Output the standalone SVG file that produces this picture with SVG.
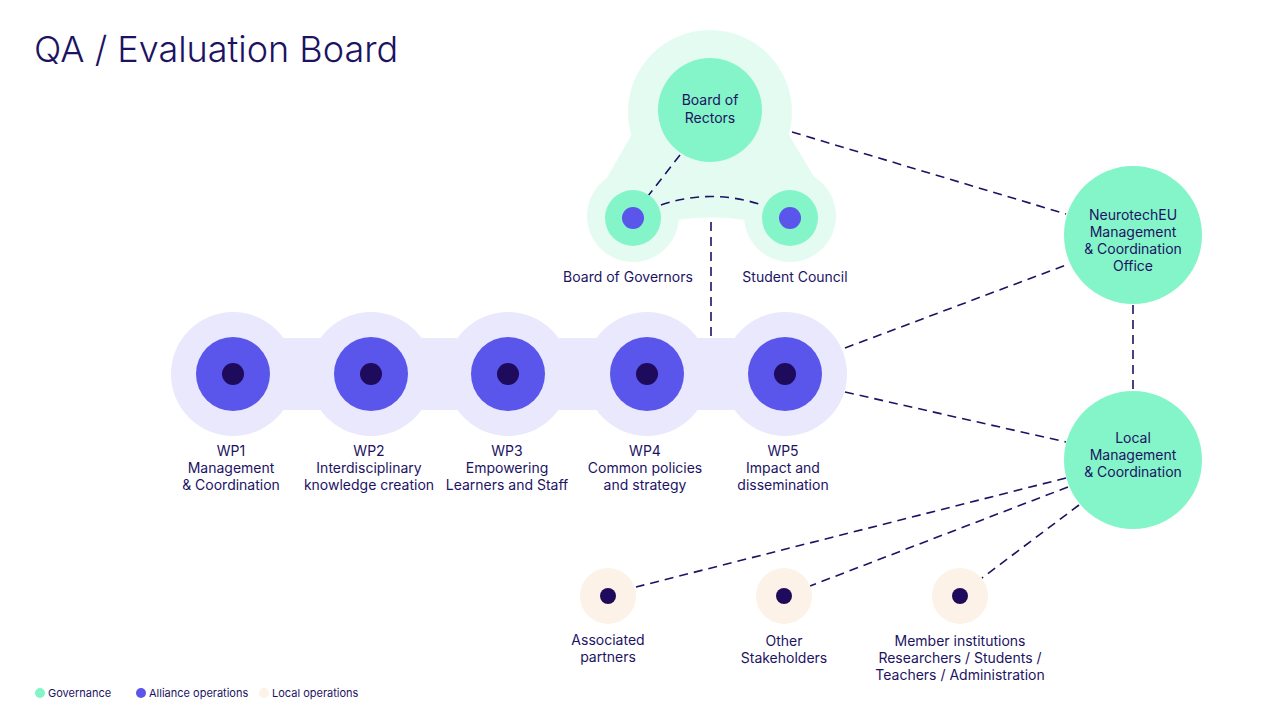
<svg xmlns="http://www.w3.org/2000/svg" width="1280" height="720" viewBox="0 0 1280 720">
<style>
text{font-family:Inter,"Liberation Sans",sans-serif;fill:#1c1363;font-size:14px}
.c{text-anchor:middle}
.lg{fill:#e4fbf2}.g{fill:#84f4c9}.lp{fill:#e9e8fc}.p{fill:#5a55eb}.d{fill:#1e0b5c}.lo{fill:#fcf2e7}
.dash{fill:none;stroke:#1c1363;stroke-width:1.6;stroke-dasharray:9 6}
</style>
<rect width="1280" height="720" fill="#fff"/>
<text x="34" y="62" style="font-size:36px;font-weight:300">QA / Evaluation Board</text>
<g id="governance-bg">
<circle class="lg" cx="710" cy="112" r="82"/>
<circle class="lg" cx="633" cy="216" r="46"/>
<circle class="lg" cx="790" cy="216" r="46"/>
<path class="lg" d="M600,190 L640,120 L780,120 L822,190 L790,230 Q711,205 633,230 Z"/>
</g>
<g id="wp-bg">
<circle class="lp" cx="233" cy="374" r="62"/><circle class="lp" cx="371" cy="374" r="62"/><circle class="lp" cx="508" cy="374" r="62"/><circle class="lp" cx="647" cy="374" r="62"/><circle class="lp" cx="785" cy="374" r="62"/>
<rect class="lp" x="233" y="338" width="552" height="72"/>
</g>
<g id="connectors">
<line class="dash" x1="680" y1="155" x2="648" y2="196"/>
<path class="dash" d="M661,205 Q711,188 762,205"/>
<line class="dash" x1="711" y1="222" x2="711" y2="338"/>
<line class="dash" x1="792" y1="132" x2="1066" y2="214"/>
<line class="dash" x1="845" y1="348" x2="1066" y2="265"/>
<line class="dash" x1="845" y1="392" x2="1066" y2="442"/>
<line class="dash" x1="1133" y1="305" x2="1133" y2="390"/>
<line class="dash" x1="1066" y1="478" x2="636" y2="587"/>
<line class="dash" x1="1068" y1="487" x2="810" y2="586"/>
<line class="dash" x1="1079" y1="505" x2="982" y2="578"/>
</g>
<g id="board-of-rectors"><circle class="g" cx="710" cy="110" r="52"/><text class="c" x="710" y="105">Board of</text><text class="c" x="710" y="123">Rectors</text></g>
<g id="board-of-governors"><circle class="g" cx="633" cy="218" r="28"/><circle class="p" cx="633" cy="218" r="11"/><text class="c" x="628" y="282">Board of Governors</text></g>
<g id="student-council"><circle class="g" cx="790" cy="218" r="28"/><circle class="p" cx="790" cy="218" r="11"/><text class="c" x="795" y="282">Student Council</text></g>
<g id="wp1"><circle class="p" cx="233" cy="374" r="37"/><circle class="d" cx="233" cy="374" r="11"/><text class="c" x="231" y="456">WP1</text><text class="c" x="231" y="473">Management</text><text class="c" x="231" y="490">&amp; Coordination</text></g>
<g id="wp2"><circle class="p" cx="371" cy="374" r="37"/><circle class="d" cx="371" cy="374" r="11"/><text class="c" x="369" y="456">WP2</text><text class="c" x="369" y="473">Interdisciplinary</text><text class="c" x="369" y="490">knowledge creation</text></g>
<g id="wp3"><circle class="p" cx="508" cy="374" r="37"/><circle class="d" cx="508" cy="374" r="11"/><text class="c" x="507" y="456">WP3</text><text class="c" x="507" y="473">Empowering</text><text class="c" x="507" y="490">Learners and Staff</text></g>
<g id="wp4"><circle class="p" cx="647" cy="374" r="37"/><circle class="d" cx="647" cy="374" r="11"/><text class="c" x="645" y="456">WP4</text><text class="c" x="645" y="473">Common policies</text><text class="c" x="645" y="490">and strategy</text></g>
<g id="wp5"><circle class="p" cx="785" cy="374" r="37"/><circle class="d" cx="785" cy="374" r="11"/><text class="c" x="783" y="456">WP5</text><text class="c" x="783" y="473">Impact and</text><text class="c" x="783" y="490">dissemination</text></g>
<g id="mco"><circle class="g" cx="1133" cy="235" r="69"/><text class="c" x="1133" y="220">NeurotechEU</text><text class="c" x="1133" y="237">Management</text><text class="c" x="1133" y="254">&amp; Coordination</text><text class="c" x="1133" y="271">Office</text></g>
<g id="local-mc"><circle class="g" cx="1133" cy="460" r="69"/><text class="c" x="1133" y="443">Local</text><text class="c" x="1133" y="460">Management</text><text class="c" x="1133" y="477">&amp; Coordination</text></g>
<g id="associated"><circle class="lo" cx="608" cy="596" r="28"/><circle class="d" cx="608" cy="596" r="8"/><text class="c" x="608" y="645">Associated</text><text class="c" x="608" y="662">partners</text></g>
<g id="other"><circle class="lo" cx="784" cy="596" r="28"/><circle class="d" cx="784" cy="596" r="8"/><text class="c" x="784" y="646">Other</text><text class="c" x="784" y="663">Stakeholders</text></g>
<g id="members"><circle class="lo" cx="960" cy="596" r="28"/><circle class="d" cx="960" cy="596" r="8"/><text class="c" x="960" y="646">Member institutions</text><text class="c" x="960" y="663">Researchers / Students /</text><text class="c" x="960" y="680">Teachers / Administration</text></g>
<g id="legend">
<circle class="g" cx="40" cy="693" r="5"/><text x="48" y="697" style="font-size:11px">Governance</text>
<circle class="p" cx="141" cy="693" r="5"/><text x="149" y="697" style="font-size:11px">Alliance operations</text>
<circle class="lo" cx="264" cy="693" r="5"/><text x="272" y="697" style="font-size:11px">Local operations</text>
</g>
</svg>
